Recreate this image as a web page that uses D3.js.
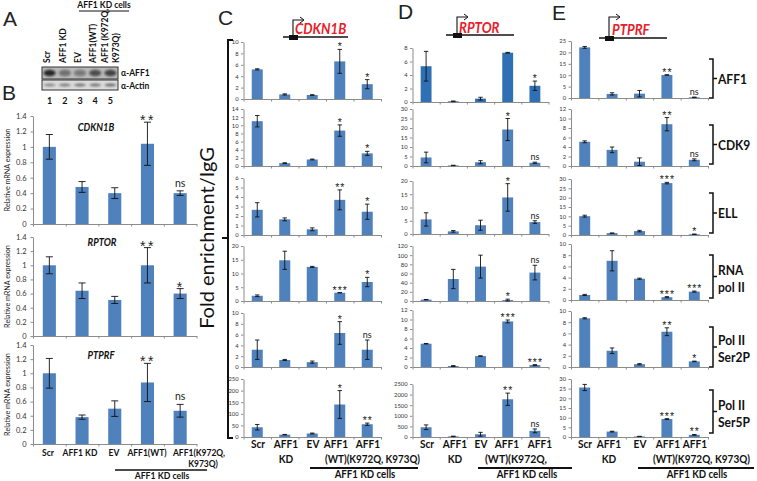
<!DOCTYPE html>
<html><head><meta charset="utf-8">
<script src="https://cdn.jsdelivr.net/npm/d3@7"></script>
<style>body{margin:0;background:#fff}</style>
</head><body>
<svg id="fig" width="757" height="481" xmlns="http://www.w3.org/2000/svg"></svg>
<script>
// ---------------- DATA ----------------
const conditions = ["Scr", "AFF1 KD", "EV", "AFF1(WT)", "AFF1(K972Q, K973Q)"];
const factors = ["AFF1", "CDK9", "ELL", "RNA pol II", "Pol II Ser2P", "Pol II Ser5P"];
const lanes = ["1", "2", "3", "4", "5"];
const blotLabels = ["Scr", "AFF1 KD", "EV", "AFF1(WT)", "AFF1 (K972Q,"];
const blotAFF1 = [0.85, 0.45, 0.4, 0.65, 0.7];
const blotActin = [0.45, 0.5, 0.55, 0.55, 0.6];

// Panel B: relative mRNA expression
const mrnaGenes = ["CDKN1B", "RPTOR", "PTPRF"];
const mrnaValues = [
  [1.00, 0.48, 0.40, 1.04, 0.40],
  [1.00, 0.64, 0.51, 1.00, 0.60],
  [1.00, 0.38, 0.50, 0.87, 0.47]
];
const mrnaErrors = [
  [0.16, 0.07, 0.07, 0.28, 0.03],
  [0.12, 0.11, 0.05, 0.25, 0.07],
  [0.21, 0.03, 0.11, 0.27, 0.09]
];
const mrnaSig = [
  ["", "", "", "**", "ns"],
  ["", "", "", "**", "*"],
  ["", "", "", "**", "ns"]
];
const mrnaTicks = [0, 0.2, 0.4, 0.6, 0.8, 1, 1.2, 1.4];

// Panel C: CDKN1B ChIP (rows = factors)
const cdkn1bChip = [
  [5.2, 0.8, 0.7, 6.6, 2.6],
  [11.0, 0.7, 1.6, 8.7, 3.1],
  [2.65, 1.65, 0.6, 3.7, 2.45],
  [1.9, 14.8, 12.4, 3.0, 6.9],
  [3.2, 1.3, 0.9, 6.3, 3.2],
  [42, 10, 15, 140, 55]
];
const cdkn1bErr = [
  [0.1, 0.1, 0.05, 2.1, 0.8],
  [1.4, 0.1, 0.1, 1.4, 0.5],
  [0.75, 0.15, 0.15, 1.05, 0.8],
  [0.3, 3.3, 0.2, 0.05, 1.7],
  [1.8, 0.1, 0.2, 2.1, 1.8],
  [12, 1, 2, 60, 5]
];
const cdkn1bSig = [
  ["", "", "", "*", "*"],
  ["", "", "", "*", "*"],
  ["", "", "", "**", "*"],
  ["", "", "", "***", "*"],
  ["", "", "", "*", "ns"],
  ["", "", "", "*", "**"]
];
const cdkn1bMax = [10, 14, 6, 20, 10, 250];
const cdkn1bStep = [2, 2, 1, 5, 2, 50];

// Panel D: RPTOR ChIP
const rptorChip = [
  [5.3, 0.1, 0.5, 7.3, 2.4],
  [4.5, 0.3, 2.0, 19.2, 1.7],
  [5.5, 1.0, 3.3, 13.8, 4.5],
  [3, 48, 75, 2, 62],
  [4.9, 0.2, 2.3, 9.6, 0.4],
  [460, 30, 130, 1780, 290]
];
const rptorErr = [
  [2.2, 0.05, 0.2, 0.05, 0.7],
  [2.8, 0.1, 0.8, 5.8, 0.3],
  [2.5, 0.3, 1.9, 5.2, 0.5],
  [0.3, 21, 25, 2, 16],
  [0.05, 0.1, 0.05, 0.3, 0.1],
  [110, 10, 90, 290, 90]
];
const rptorSig = [
  ["", "", "", "", "*"],
  ["", "", "", "*", "ns"],
  ["", "", "", "*", "ns"],
  ["", "", "", "*", "ns"],
  ["", "", "", "***", "***"],
  ["", "", "", "**", "ns"]
];
const rptorMax = [8, 30, 20, 120, 12, 2500];
const rptorStep = [2, 5, 5, 20, 2, 500];

// Panel E: PTPRF ChIP
const ptprfChip = [
  [22.2, 1.8, 1.9, 10.1, 0.3],
  [5.1, 3.4, 0.9, 8.8, 1.3],
  [10.1, 1.0, 2.1, 27.8, 0.4],
  [0.9, 7.0, 3.8, 0.5, 1.5],
  [8.7, 2.9, 0.5, 6.3, 1.0],
  [25.6, 2.8, 0.3, 9.3, 1.1]
];
const ptprfErr = [
  [0.4, 0.5, 1.4, 0.1, 0.1],
  [0.2, 0.6, 0.8, 1.4, 0.2],
  [0.5, 0.05, 0.4, 0.4, 0.1],
  [0.1, 1.8, 0.1, 0.1, 0.1],
  [0.1, 0.5, 0.1, 0.7, 0.05],
  [1.6, 0.2, 0.05, 0.2, 0.2]
];
const ptprfSig = [
  ["", "", "", "**", "ns"],
  ["", "", "", "**", "ns"],
  ["", "", "", "***", "*"],
  ["", "", "", "***", "***"],
  ["", "", "", "**", "*"],
  ["", "", "", "***", "**"]
];
const ptprfMax = [25, 12, 30, 10, 10, 30];
const ptprfStep = [5, 2, 5, 2, 2, 5];

// ---------------- DRAWING ----------------
const svg = d3.select("#fig");
const FONT = "Lato, 'Open Sans', sans-serif";
const ARIAL = "'Liberation Sans', Arial, sans-serif";
const BLUE = "#4f81bd";
const AXIS = "#8c8c8c";

function condense(t, f) {
  const len = t.node().getComputedTextLength();
  if (len > 0) t.attr("textLength", len * f).attr("lengthAdjust", "spacingAndGlyphs");
  return t;
}

function barChart(g, cfg) {
  const n = cfg.values.length;
  const x = d3.scaleBand().domain(d3.range(n)).range([cfg.x0, cfg.x1]).paddingInner(0.6).paddingOuter(0.3);
  const y = d3.scaleLinear().domain([0, cfg.max]).range([cfg.yBot, cfg.yTop]);
  const ticks = cfg.ticks || d3.range(0, cfg.max + cfg.step / 2, cfg.step);
  const ya = g.append("g").attr("transform", `translate(${cfg.x0},0)`)
    .call(d3.axisLeft(y).tickValues(ticks).tickSize(2.5).tickSizeOuter(0).tickPadding(cfg.pad || 2.5)
      .tickFormat(d => String(+d.toFixed(2))));
  ya.select(".domain").attr("stroke", AXIS);
  ya.selectAll(".tick line").attr("stroke", AXIS);
  ya.selectAll(".tick text").attr("font-size", cfg.tickSize).attr("font-family", FONT).attr("fill", "#333");
  const xb = d3.scaleLinear().domain([0, n]).range([cfg.x0, cfg.x1]);
  const xa = g.append("g").attr("transform", `translate(0,${cfg.yBot})`)
    .call(d3.axisBottom(xb).tickValues(d3.range(0, n + 1)).tickSize(2.5).tickSizeOuter(0).tickFormat(""));
  xa.select(".domain").attr("stroke", AXIS);
  xa.selectAll(".tick line").attr("stroke", AXIS);

  g.append("g").selectAll("rect").data(cfg.values).join("rect")
    .attr("x", (d, i) => x(i)).attr("y", d => y(d))
    .attr("width", x.bandwidth()).attr("height", d => cfg.yBot - y(d))
    .attr("fill", cfg.color || BLUE);

  const eg = g.append("g").attr("stroke", "#111").attr("stroke-width", 0.9);
  cfg.values.forEach((v, i) => {
    const e = cfg.errors[i];
    const cx = x(i) + x.bandwidth() / 2;
    const yt = y(v + e), yb = y(Math.max(0, v - e));
    eg.append("line").attr("x1", cx).attr("x2", cx).attr("y1", yt).attr("y2", yb);
    eg.append("line").attr("x1", cx - cfg.cap).attr("x2", cx + cfg.cap).attr("y1", yt).attr("y2", yt);
    eg.append("line").attr("x1", cx - cfg.cap).attr("x2", cx + cfg.cap).attr("y1", yb).attr("y2", yb);
    const s = cfg.sigs[i];
    if (s) {
      const isStar = s.includes("*");
      g.append("text").attr("x", cx + (isStar ? 0.5 : 0)).attr("y", yt - (isStar ? cfg.starOff : cfg.nsOff))
        .attr("text-anchor", "middle").attr("font-family", isStar ? ARIAL : FONT)
        .attr("font-size", isStar ? cfg.starSize : cfg.nsSize)
        .attr("letter-spacing", isStar ? cfg.starSpace : 0)
        .attr("fill", "#222").text(s);
    }
  });
  return { x, y };
}

function txt(g, x, y, s, size, opts = {}) {
  const t = g.append("text").attr("x", x).attr("y", y).attr("font-size", size)
    .attr("font-family", opts.family || FONT).attr("fill", opts.fill || "#111")
    .attr("text-anchor", opts.anchor || "middle").text(s);
  if (opts.bold) t.attr("font-weight", "bold");
  if (opts.italic) t.attr("font-style", "italic");
  if (opts.transform) t.attr("transform", opts.transform);
  if (opts.squeeze) condense(t, opts.squeeze);
  if (opts.fitWidth) t.attr("textLength", opts.fitWidth).attr("lengthAdjust", "spacingAndGlyphs");
  return t;
}

// ---- Panel letters ----
[["A", 3, 26], ["B", 2, 100], ["C", 218, 25], ["D", 398, 19], ["E", 552, 20]].forEach(([l, x, y]) =>
  txt(svg, x, y, l, 21, { anchor: "start", family: ARIAL, fill: "#222" }));

// ---- Panel A: western blot ----
const gA = svg.append("g");
const laneX = d3.scaleBand().domain(d3.range(5)).range([42, 118]);
const defs = svg.append("defs");
defs.append("filter").attr("id", "blur").append("feGaussianBlur").attr("stdDeviation", 1.2);
gA.append("rect").attr("x", 42).attr("y", 67).attr("width", 76).attr("height", 12).attr("fill", "#b9b9b9").attr("stroke", "#333").attr("stroke-width", 1);
gA.append("rect").attr("x", 42).attr("y", 80).attr("width", 76).attr("height", 10).attr("fill", "#dcdcdc").attr("stroke", "#333").attr("stroke-width", 1);
const bandG = gA.append("g").attr("filter", "url(#blur)");
blotAFF1.forEach((v, i) => bandG.append("ellipse").attr("cx", laneX(i) + laneX.bandwidth() / 2).attr("cy", 73)
  .attr("rx", 6).attr("ry", 3.2).attr("fill", "#111").attr("opacity", v));
blotActin.forEach((v, i) => bandG.append("ellipse").attr("cx", laneX(i) + laneX.bandwidth() / 2).attr("cy", 85)
  .attr("rx", 6).attr("ry", 1.4).attr("fill", "#222").attr("opacity", v));
const blotLabelX = [50, 66, 81, 96, 108];
blotLabels.forEach((s, i) => txt(gA, 0, 0, s, 8.5, { anchor: "start", bold: true, transform: `translate(${blotLabelX[i]},63) rotate(-90)` }));
txt(gA, 0, 0, "K973Q)", 8.5, { anchor: "start", bold: true, transform: `translate(119,63) rotate(-90)` });
txt(gA, 104, 8, "AFF1 KD cells", 8.5, { bold: true });
gA.append("line").attr("x1", 79).attr("x2", 129).attr("y1", 11).attr("y2", 11).attr("stroke", "#111").attr("stroke-width", 1.2);
lanes.forEach((s, i) => txt(gA, laneX(i) + laneX.bandwidth() / 2, 104, s, 9, { bold: true }));
txt(gA, 121, 76, "α-AFF1", 8.5, { anchor: "start", bold: true });
txt(gA, 121, 89, "α-Actin", 8.5, { anchor: "start", bold: true });

// ---- Panel B ----
const gB = svg.append("g");
const bRows = [[116, 224], [237, 336], [345, 444]];
const bGenePos = [[96, 131], [102, 246], [101, 359]];
mrnaGenes.forEach((gene, r) => {
  barChart(gB, {
    x0: 33, x1: 196.5, yTop: bRows[r][0], yBot: bRows[r][1], max: 1.4, ticks: mrnaTicks,
    values: mrnaValues[r], errors: mrnaErrors[r], sigs: mrnaSig[r],
    tickSize: 7.5, cap: 3.5, starSize: 14, nsSize: 10.5, starOff: -3, nsOff: 4, starSpace: 2.5, pad: 4
  });
  txt(gB, bGenePos[r][0], bGenePos[r][1], gene, 10.5, { bold: true, italic: true, squeeze: 0.9 });
  const mid = (bRows[r][0] + bRows[r][1]) / 2;
  txt(gB, 0, 0, "Relative mRNA expression", 7.8, { transform: `translate(10,${mid}) rotate(-90)`, fill: "#222", squeeze: 0.92 });
});
const bLabX = [48, 80, 114, 147, 199];
[conditions[0], conditions[1], conditions[2], conditions[3], "AFF1(K972Q,"].forEach((s, i) =>
  txt(gB, bLabX[i], 456, s, 10, { bold: true, squeeze: 0.85 }));
txt(gB, 203, 467, "K973Q)", 10, { bold: true, squeeze: 0.85 });
gB.append("line").attr("x1", 115).attr("x2", 207).attr("y1", 470).attr("y2", 470).attr("stroke", "#111").attr("stroke-width", 1.3);
txt(gB, 162, 479, "AFF1 KD cells", 10, { bold: true, squeeze: 0.87 });

// ---- Panels C, D, E ----
const panels = [
  { data: cdkn1bChip, err: cdkn1bErr, sig: cdkn1bSig, max: cdkn1bMax, step: cdkn1bStep, x0: 243.5, x1: 381,
    tops: [42, 109, 178, 246, 313, 379], bots: [99, 166, 235, 301, 367, 437] },
  { data: rptorChip, err: rptorErr, sig: rptorSig, max: rptorMax, step: rptorStep, x0: 412.5, x1: 548.5,
    tops: [48, 109, 181, 246, 310, 384], bots: [102, 166, 234, 301, 367, 437] },
  { data: ptprfChip, err: ptprfErr, sig: ptprfSig, max: ptprfMax, step: ptprfStep, x0: 571, x1: 708,
    tops: [41, 109, 179, 244, 311, 379], bots: [98, 166, 235, 300, 367, 437] }
];
panels.forEach((p, pi) => {
  const g = svg.append("g");
  p.data.forEach((vals, r) => {
    barChart(g, {
      x0: p.x0, x1: p.x1, yTop: p.tops[r], yBot: p.bots[r], max: p.max[r], step: p.step[r],
      values: vals, errors: p.err[r], sigs: p.sig[r],
      tickSize: 5.8, cap: 2.2, starSize: 10.5, nsSize: 9, starOff: -1, nsOff: 2, starSpace: 1,
      color: (pi === 1 && r === 0) ? "#2f6fb3" : BLUE
    });
  });
});

// x-axis labels for C, D, E
const lab = svg.append("g");
const SQ = 0.84;
function chipLabels(xs, line2Start, line2Text, line2Width, lineX0, lineX1, cellsX) {
  ["Scr", "AFF1", "EV", "AFF1", "AFF1"].forEach((s, i) => txt(lab, xs[i], 448, s, 12, { bold: true, squeeze: SQ }));
  txt(lab, xs[1], 463, "KD", 12, { bold: true, squeeze: SQ });
  txt(lab, line2Start, 463, line2Text, 10.8, { bold: true, anchor: "start", fitWidth: line2Width });
  lab.append("line").attr("x1", lineX0).attr("x2", lineX1).attr("y1", 468).attr("y2", 468).attr("stroke", "#111").attr("stroke-width", 2);
  txt(lab, cellsX, 477.5, "AFF1 KD cells", 11.5, { bold: true, squeeze: SQ });
}
chipLabels([258, 286, 313, 336, 368], 325, "(WT)(K972Q, K973Q)", 95, 310, 418, 365);
chipLabels([427, 455, 481, 507, 540], 485, "(WT)(K972Q,", 62, 478, 572, 527);
chipLabels([585, 609, 640, 668, 695], 653, "(WT)(K972Q, K973Q)", 97, 638, 754, 697);

// promoter diagrams
function promoter(lx0, lx1, ly, bx, stemX, topY, name, tx, ty) {
  const g = svg.append("g");
  g.append("line").attr("x1", lx0).attr("x2", lx1).attr("y1", ly).attr("y2", ly).attr("stroke", "#111").attr("stroke-width", 1.3);
  g.append("rect").attr("x", bx).attr("y", ly - 2).attr("width", 9).attr("height", 5).attr("fill", "#111");
  g.append("path").attr("d", `M${stemX},${ly} V${topY} H${stemX + 10}`).attr("fill", "none").attr("stroke", "#111").attr("stroke-width", 1.1);
  g.append("path").attr("d", `M${stemX + 7},${topY - 3} L${stemX + 11},${topY} L${stemX + 7},${topY + 3}`).attr("fill", "none").attr("stroke", "#111").attr("stroke-width", 1);
  txt(g, tx, ty, name, 15, { bold: true, italic: true, fill: "#e8202a", anchor: "start", squeeze: 0.88 });
}
promoter(283, 348, 37, 289, 293, 20, "CDKN1B", 295, 34);
promoter(446, 514, 35, 453, 457, 17, "RPTOR", 459, 33);
promoter(599, 667, 38, 605, 609, 17, "PTPRF", 612, 35);

// left bracket + y title
const br = svg.append("g").attr("stroke", "#111").attr("stroke-width", 2).attr("fill", "none");
br.append("path").attr("d", "M233,40 H228 V438 H233");
br.append("path").attr("d", "M228,238 H222");
txt(svg, 0, 0, "Fold enrichment/IgG", 20, { transform: "translate(214,238) rotate(-90)", fill: "#111" });

// right brackets + factor labels
const rb = [[59, 98], [125, 164], [193, 233], [255, 298], [327, 367], [390, 433]];
const rbLabels = [["AFF1"], ["CDK9"], ["ELL"], ["RNA", "pol II"], ["Pol II", "Ser2P"], ["Pol II", "Ser5P"]];
const rg = svg.append("g").attr("stroke", "#111").attr("stroke-width", 1.5).attr("fill", "none");
factors.forEach((f, i) => {
  const [t, b] = rb[i];
  const m = (t + b) / 2;
  rg.append("path").attr("d", `M709,${t} H713 V${b} H709`);
  rg.append("path").attr("d", `M713,${m} H717`);
  const lines = rbLabels[i];
  if (lines.length === 1) txt(svg, 718, m + 5, lines[0], 14, { bold: true, anchor: "start", squeeze: 0.86 });
  else {
    txt(svg, 718, m - 2, lines[0], 14, { bold: true, anchor: "start", squeeze: 0.86 });
    txt(svg, 718, m + 15, lines[1], 14, { bold: true, anchor: "start", squeeze: 0.86 });
  }
});
</script>
</body></html>
